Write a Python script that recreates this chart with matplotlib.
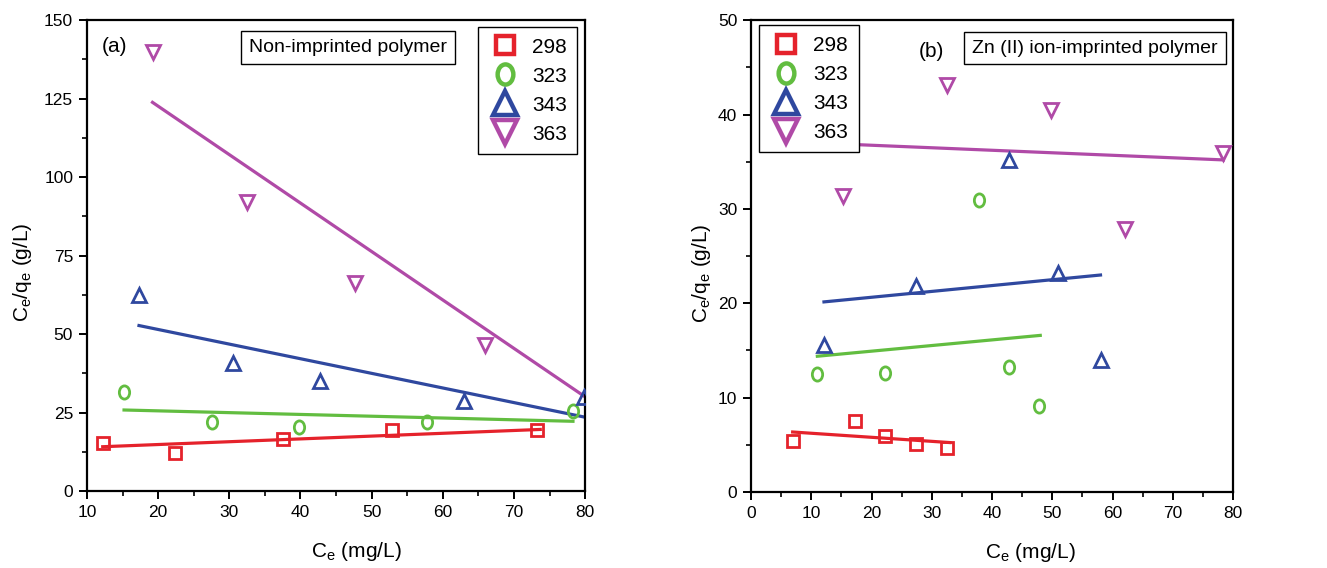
import numpy as np
import matplotlib
matplotlib.use("Agg")
import matplotlib.pyplot as plt
from matplotlib.ticker import MultipleLocator
from matplotlib.lines import Line2D
from matplotlib.path import Path
from matplotlib.transforms import Affine2D

plt.rcParams['font.family'] = ['Liberation Sans', 'DejaVu Sans']
plt.rcParams['mathtext.default'] = 'regular'

temps = ["298", "323", "343", "363"]
colors = ["#e5222b", "#62bd40", "#2f489f", "#b04aa7"]

# (a) Non-imprinted polymer: Ce (mg/L) and Ce/qe (g/L)
a_ce = {
    "298": [12.2, 22.4, 37.5, 52.8, 73.2],
    "323": [15.2, 27.5, 39.8, 57.8, 78.3],
    "343": [17.3, 30.5, 42.8, 63.0, 79.8],
    "363": [19.2, 32.5, 47.7, 65.9],
}
a_ratio = {
    "298": [15.2, 12.2, 16.6, 19.3, 19.4],
    "323": [31.4, 22.0, 20.5, 22.0, 25.6],
    "343": [62.4, 40.7, 35.1, 28.8, 30.0],
    "363": [139.9, 92.1, 66.3, 46.5],
}
# linear fits: x range and fitted Ce/qe at both ends
a_fit_x = {"298": [12.2, 73.7], "323": [15.2, 78.3], "343": [17.3, 80.0], "363": [19.2, 80.0]}
a_fit_y = {"298": [14.1, 19.6], "323": [25.8, 22.2], "343": [52.7, 23.5], "363": [123.8, 30.0]}

# (b) Zn(II) ion-imprinted polymer
b_ce = {
    "298": [6.9, 17.2, 22.2, 27.4, 32.5],
    "323": [11.0, 22.2, 37.8, 42.8, 47.8],
    "343": [12.1, 27.4, 42.8, 51.0, 58.0],
    "363": [7.0, 15.2, 32.5, 49.7, 62.0, 78.4],
}
b_ratio = {
    "298": [5.38, 7.57, 5.9, 5.13, 4.71],
    "323": [12.48, 12.59, 30.9, 13.26, 9.16],
    "343": [15.56, 21.8, 35.15, 23.2, 13.97],
    "363": [38.0, 31.4, 43.1, 40.5, 27.9, 35.9],
}
b_fit_x = {"298": [6.9, 33.0], "323": [11.0, 48.0], "343": [12.1, 58.0], "363": [7.0, 78.4]}
b_fit_y = {"298": [6.36, 5.24], "323": [14.39, 16.6], "343": [20.15, 23.0], "363": [37.1, 35.2]}

# slightly tall open circle
oval = Path.unit_circle().transformed(Affine2D().scale(0.78, 1.0))
markers = ["s", oval, "^", "v"]
data_ms = [8, 9.5, 10, 10]
legend_ms = [12.5, 14.5, 17, 17]

fig = plt.figure(figsize=(13.27, 5.68), dpi=100)
ax_a = fig.add_axes([0.0656, 0.1356, 0.3753, 0.829])
ax_b = fig.add_axes([0.566, 0.1338, 0.3632, 0.8305])


def draw_panel(ax, ce, ratio, fx, fy):
    for t, c, m, ms in zip(temps, colors, markers, data_ms):
        ax.plot(ce[t], ratio[t], linestyle="none", marker=m,
                markersize=ms, markerfacecolor="none",
                markeredgecolor=c, markeredgewidth=2.0, zorder=3)
        ax.plot(fx[t], fy[t], color=c, linewidth=2.3, zorder=2)
    for s in ax.spines.values():
        s.set_linewidth(1.6)
        s.set_color("black")
    ax.tick_params(axis="both", which="major", direction="out", length=6,
                   width=1.4, labelsize=12.5, top=False, right=False, pad=4)
    ax.tick_params(axis="both", which="minor", direction="out", length=3.5,
                   width=1.2, top=False, right=False)
    ax.set_xlabel("C$_e$ (mg/L)", fontsize=15)
    ax.set_ylabel("C$_e$/q$_e$ (g/L)", fontsize=15)
    handles = [Line2D([], [], linestyle="none", marker=m, markersize=ms,
                      markerfacecolor="none", markeredgecolor=c,
                      markeredgewidth=3.2, label=t)
               for t, c, m, ms in zip(temps, colors, markers, legend_ms)]
    return handles


h_a = draw_panel(ax_a, a_ce, a_ratio, a_fit_x, a_fit_y)
ax_a.set_xlim(10, 80)
ax_a.set_ylim(0, 150)
ax_a.xaxis.set_major_locator(MultipleLocator(10))
ax_a.xaxis.set_minor_locator(MultipleLocator(5))
ax_a.yaxis.set_major_locator(MultipleLocator(25))
ax_a.yaxis.set_minor_locator(MultipleLocator(12.5))
ax_a.xaxis.set_label_coords(0.540, -0.105)
ax_a.yaxis.set_label_coords(-0.106, 0.465)

h_b = draw_panel(ax_b, b_ce, b_ratio, b_fit_x, b_fit_y)
ax_b.set_xlim(0, 80)
ax_b.set_ylim(0, 50)
ax_b.xaxis.set_major_locator(MultipleLocator(10))
ax_b.xaxis.set_minor_locator(MultipleLocator(5))
ax_b.yaxis.set_major_locator(MultipleLocator(10))
ax_b.yaxis.set_minor_locator(MultipleLocator(5))
ax_b.xaxis.set_label_coords(0.579, -0.104)
ax_b.yaxis.set_label_coords(-0.079, 0.4636)

leg_kw = dict(prop={'size': 15}, frameon=True, fancybox=False,
              edgecolor="black", framealpha=1.0, handletextpad=0.5,
              labelspacing=0.48, borderpad=0.5, handlelength=1.6,
              borderaxespad=0.0)
la = ax_a.legend(handles=h_a, loc="upper right", bbox_to_anchor=(0.984, 0.985), **leg_kw)
lb = ax_b.legend(handles=h_b, loc="upper left", bbox_to_anchor=(0.017, 0.989), **leg_kw)
for lg in (la, lb):
    lg.get_frame().set_linewidth(1.0)
    lg.set_zorder(5)

box = dict(boxstyle="square,pad=0.4", facecolor="white", edgecolor="black", linewidth=1.0)
ax_a.text(0.5235, 0.9416, "Non-imprinted polymer", transform=ax_a.transAxes,
          ha="center", va="center", fontsize=14, bbox=box, zorder=6)
ax_b.text(0.7137, 0.941, "Zn (II) ion-imprinted polymer", transform=ax_b.transAxes,
          ha="center", va="center", fontsize=14, bbox=box, zorder=6)
ax_a.text(0.056, 0.943, "(a)", transform=ax_a.transAxes, ha="center",
          va="center", fontsize=15)
ax_b.text(0.375, 0.933, "(b)", transform=ax_b.transAxes, ha="center",
          va="center", fontsize=15)

fig.savefig("out.png", dpi=100)
